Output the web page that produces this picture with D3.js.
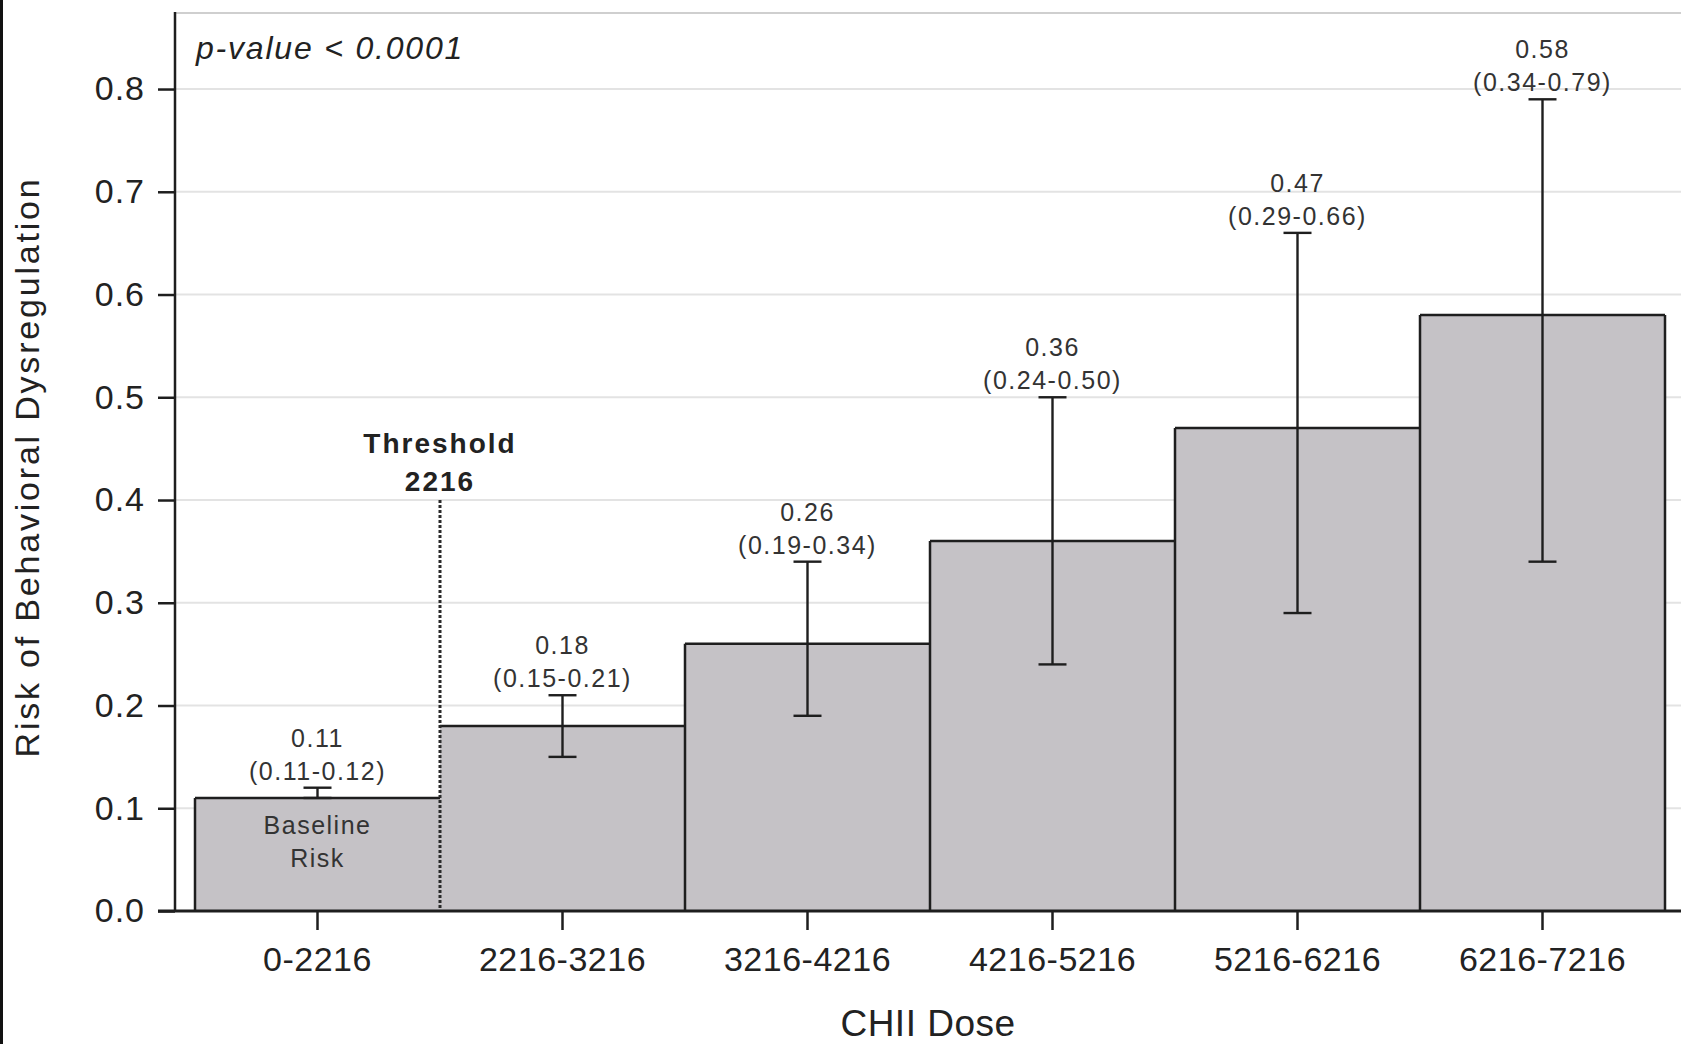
<!DOCTYPE html>
<html>
<head>
<meta charset="utf-8">
<script src="https://cdn.jsdelivr.net/npm/d3@7"></script>
<style>
  body { margin: 0; background: #fff; }
  svg { display: block; font-family: "Liberation Sans", Arial, Helvetica, sans-serif; }
</style>
</head>
<body>
<div id="chart"></div>
<script>
// --- data ---
const categories = ["0-2216", "2216-3216", "3216-4216", "4216-5216", "5216-6216", "6216-7216"];
const risk = [0.11, 0.18, 0.26, 0.36, 0.47, 0.58];
const lower = [0.11, 0.15, 0.19, 0.24, 0.29, 0.34];
const upper = [0.12, 0.21, 0.34, 0.50, 0.66, 0.79];
const yTicks = [0, 0.1, 0.2, 0.3, 0.4, 0.5, 0.6, 0.7, 0.8];
const threshold = { index: 1, label: ["Threshold", "2216"], top: 0.4 };
const pValueText = "p-value < 0.0001";
const baselineText = ["Baseline", "Risk"];

const W = 1681, H = 1044;
const axisX = 175, y0 = 911, yTop = 13;

const svg = d3.select("#chart").append("svg")
    .attr("width", W)
    .attr("height", H);

// left edge dark stripe (from the source image crop)
svg.append("rect").attr("x", 0).attr("y", 0).attr("width", 3).attr("height", H).attr("fill", "#111");

const x = d3.scaleBand().domain(categories).range([195, 1665]).padding(0);
const y = d3.scaleLinear().domain([0, 0.874]).range([y0, yTop]);

// gridlines
svg.append("g").selectAll("line")
    .data(yTicks.filter(d => d > 0))
    .enter().append("line")
    .attr("x1", axisX).attr("x2", W)
    .attr("y1", d => y(d)).attr("y2", d => y(d))
    .attr("stroke", "#e3e3e3").attr("stroke-width", 2);

// top frame
svg.append("line")
    .attr("x1", axisX).attr("x2", W).attr("y1", yTop).attr("y2", yTop)
    .attr("stroke", "#cfcfcf").attr("stroke-width", 2);

// bars (fill)
const rows = categories.map((c, i) => ({ c, i, v: risk[i], lo: lower[i], hi: upper[i] }));
svg.append("g").selectAll("rect")
    .data(rows)
    .enter().append("rect")
    .attr("x", d => x(d.c))
    .attr("y", d => y(d.v))
    .attr("width", x.bandwidth())
    .attr("height", d => y0 - y(d.v))
    .attr("fill", "#c5c2c6");

// bar outlines
const outline = svg.append("g").attr("stroke", "#1e1e1e").attr("stroke-width", 2.5).attr("fill", "none");
rows.forEach(d => {
    outline.append("line")
        .attr("x1", x(d.c)).attr("x2", x(d.c) + x.bandwidth())
        .attr("y1", y(d.v)).attr("y2", y(d.v));
});
for (let b = 0; b <= categories.length; b++) {
    if (b === threshold.index) continue;
    const left = b > 0 ? risk[b - 1] : 0;
    const right = b < categories.length ? risk[b] : 0;
    const xb = b < categories.length ? x(categories[b]) : x(categories[b - 1]) + x.bandwidth();
    outline.append("line")
        .attr("x1", xb).attr("x2", xb)
        .attr("y1", y(Math.max(left, right))).attr("y2", y0);
}

// threshold dotted line
const xThr = x(categories[threshold.index]);
svg.append("line")
    .attr("x1", xThr).attr("x2", xThr)
    .attr("y1", y(threshold.top)).attr("y2", y0)
    .attr("stroke", "#2a2a2a").attr("stroke-width", 3)
    .attr("stroke-dasharray", "3,2");

svg.append("text")
    .attr("x", xThr).attr("y", 453)
    .attr("text-anchor", "middle")
    .attr("font-size", 28).attr("font-weight", "bold").attr("letter-spacing", 2)
    .attr("fill", "#222")
    .selectAll("tspan").data(threshold.label).enter().append("tspan")
    .attr("x", xThr).attr("dy", (d, i) => i === 0 ? 0 : 38)
    .text(d => d);

// error bars
const cap = 14;
const eb = svg.append("g").attr("stroke", "#1e1e1e").attr("stroke-width", 2.4);
rows.forEach(d => {
    const cx = x(d.c) + x.bandwidth() / 2;
    eb.append("line").attr("x1", cx).attr("x2", cx).attr("y1", y(d.lo)).attr("y2", y(d.hi));
    eb.append("line").attr("x1", cx - cap).attr("x2", cx + cap).attr("y1", y(d.hi)).attr("y2", y(d.hi));
    eb.append("line").attr("x1", cx - cap).attr("x2", cx + cap).attr("y1", y(d.lo)).attr("y2", y(d.lo));
});

// value labels
const f2 = d3.format(".2f");
const lab = svg.append("g")
    .attr("font-size", 25).attr("letter-spacing", 1.5)
    .attr("fill", "#333").attr("text-anchor", "middle");
rows.forEach(d => {
    const cx = x(d.c) + x.bandwidth() / 2;
    lab.append("text").attr("x", cx).attr("y", y(d.hi) - 41).text(f2(d.v));
    lab.append("text").attr("x", cx).attr("y", y(d.hi) - 8).text(`(${f2(d.lo)}-${f2(d.hi)})`);
});

// baseline risk note
const cx0 = x(categories[0]) + x.bandwidth() / 2;
svg.append("g")
    .attr("font-size", 25).attr("letter-spacing", 1.5)
    .attr("fill", "#333").attr("text-anchor", "middle")
    .selectAll("text").data(baselineText).enter().append("text")
    .attr("x", cx0).attr("y", (d, i) => 834 + i * 33)
    .text(d => d);

// p-value
svg.append("text")
    .attr("x", 196).attr("y", 59)
    .attr("font-size", 32).attr("font-style", "italic").attr("letter-spacing", 1.8)
    .attr("fill", "#222")
    .text(pValueText);

// y axis
const yAxis = svg.append("g")
    .attr("transform", `translate(${axisX},0)`)
    .call(d3.axisLeft(y).tickValues(yTicks).tickFormat(d3.format(".1f")).tickSize(17).tickPadding(13));
yAxis.select(".domain").remove();
yAxis.selectAll(".tick line").attr("stroke", "#1e1e1e").attr("stroke-width", 2.5);
yAxis.selectAll(".tick text")
    .attr("font-size", 34).attr("letter-spacing", 1)
    .attr("fill", "#222")
    .attr("font-family", "'Liberation Sans', Arial, sans-serif");
svg.append("line")
    .attr("x1", axisX).attr("x2", axisX).attr("y1", yTop - 1).attr("y2", y0)
    .attr("stroke", "#1e1e1e").attr("stroke-width", 2.5);

// x axis
const xAxis = svg.append("g")
    .attr("transform", `translate(0,${y0})`)
    .call(d3.axisBottom(x).tickSize(19).tickPadding(17));
xAxis.select(".domain").remove();
xAxis.selectAll(".tick line").attr("stroke", "#1e1e1e").attr("stroke-width", 2.5);
xAxis.selectAll(".tick text")
    .attr("font-size", 34).attr("letter-spacing", 0.5)
    .attr("fill", "#222")
    .attr("font-family", "'Liberation Sans', Arial, sans-serif");
svg.append("line")
    .attr("x1", 158).attr("x2", W).attr("y1", y0).attr("y2", y0)
    .attr("stroke", "#1e1e1e").attr("stroke-width", 3);

// axis titles
svg.append("text")
    .attr("x", 928).attr("y", 1036)
    .attr("text-anchor", "middle")
    .attr("font-size", 37).attr("letter-spacing", 0.5)
    .attr("fill", "#222")
    .text("CHII Dose");

svg.append("text")
    .attr("transform", `translate(39,467) rotate(-90)`)
    .attr("text-anchor", "middle")
    .attr("font-size", 34).attr("letter-spacing", 2.8)
    .attr("fill", "#222")
    .text("Risk of Behavioral Dysregulation");
</script>
</body>
</html>
